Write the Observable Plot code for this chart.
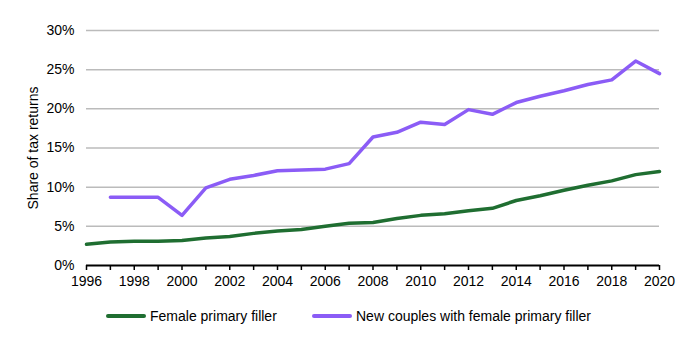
<!DOCTYPE html>
<html>
<head>
<meta charset="utf-8">
<script src="https://cdn.jsdelivr.net/npm/d3@7"></script>
<script src="https://cdn.jsdelivr.net/npm/@observablehq/plot@0.6"></script>
<style>
  body { margin: 0; background: #fff; font-family: "Liberation Sans", Arial, sans-serif; }
  #chart { width: 698px; }
  .legend { position: relative; height: 54px; font-size: 14px; color: #000; }
  .legend .item { position: absolute; top: 8px; display: flex; align-items: center; }
  .legend .sw { width: 40px; height: 4px; border-radius: 2px; margin-right: 4px; }
</style>
</head>
<body>
<div id="chart"></div>
<script>
const years = d3.range(1996, 2021);
const femaleFiller = [2.7, 3.0, 3.1, 3.1, 3.2, 3.5, 3.7, 4.1, 4.4, 4.6, 5.0, 5.4, 5.5, 6.0, 6.4, 6.6, 7.0, 7.3, 8.3, 8.9, 9.6, 10.25, 10.8, 11.6, 12.0];
const newCouples = [null, 8.7, 8.7, 8.7, 6.4, 9.9, 11.0, 11.5, 12.1, 12.2, 12.3, 13.0, 16.4, 17.0, 18.3, 18.0, 19.9, 19.3, 20.8, 21.6, 22.3, 23.1, 23.7, 26.1, 24.5];
const seriesNames = ["Female primary filler", "New couples with female primary filler"];
const seriesColors = ["#1f6e31", "#8b5cf6"];
const yTicks = [0, 5, 10, 15, 20, 25, 30];

const greenData = years.map((y, i) => ({year: y, value: femaleFiller[i]}));
const purpleData = years.map((y, i) => ({year: y, value: newCouples[i]})).filter(d => d.value != null);

const plot = Plot.plot({
  width: 698,
  height: 300,
  marginLeft: 86,
  marginRight: 39,
  marginTop: 30,
  marginBottom: 35,
  style: {fontFamily: "'Liberation Sans', Arial, sans-serif", fontSize: "14px", color: "#000", background: "#fff"},
  x: {domain: [1996, 2020]},
  y: {domain: [0, 30]},
  marks: [
    Plot.gridY(yTicks.filter(t => t > 0), {stroke: "#bbbbbb", strokeOpacity: 1, strokeWidth: 1.5}),
    Plot.axisY({ticks: yTicks, tickSize: 0, tickPadding: 12, tickFormat: d => d + "%", label: "Share of tax returns", labelAnchor: "center", labelArrow: "none", labelOffset: 58, fontSize: 14}),
    Plot.axisX({ticks: years, tickSize: 5, tickPadding: 6, strokeWidth: 1.5, stroke: "#000", tickFormat: d => d % 2 === 0 ? String(d) : "", label: null, fontSize: 14}),
    Plot.ruleY([0], {stroke: "#000", strokeWidth: 2}),
    Plot.line(greenData, {x: "year", y: "value", stroke: seriesColors[0], strokeWidth: 3.5}),
    Plot.line(purpleData, {x: "year", y: "value", stroke: seriesColors[1], strokeWidth: 3.5})
  ]
});
document.getElementById("chart").appendChild(plot);

const legend = document.createElement("div");
legend.className = "legend";
const lefts = [106, 312];
seriesNames.forEach((name, i) => {
  const item = document.createElement("div");
  item.className = "item";
  item.style.left = lefts[i] + "px";
  const sw = document.createElement("span");
  sw.className = "sw";
  sw.style.background = seriesColors[i];
  const tx = document.createElement("span");
  tx.textContent = name;
  item.appendChild(sw);
  item.appendChild(tx);
  legend.appendChild(item);
});
document.getElementById("chart").appendChild(legend);
</script>
</body>
</html>
